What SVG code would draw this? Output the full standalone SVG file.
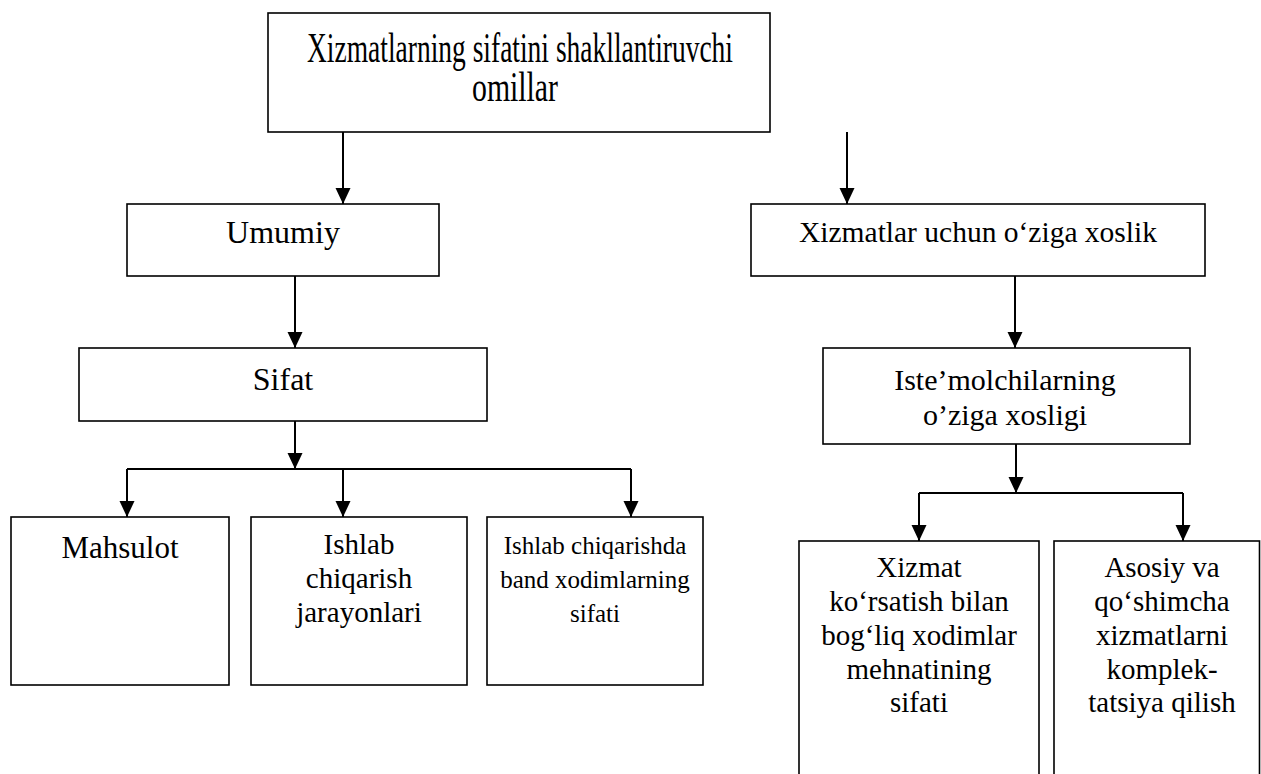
<svg xmlns="http://www.w3.org/2000/svg" width="1261" height="774" viewBox="0 0 1261 774">
<style>
.box{fill:#fff;stroke:#000;stroke-width:1.6}
.t{font-family:'Liberation Serif','Times New Roman',Tinos,'DejaVu Serif',serif;fill:#000;text-anchor:middle}
.c{fill:none;stroke:#000;stroke-width:2}
</style>
<defs>
<marker id="ah" markerUnits="userSpaceOnUse" markerWidth="16" markerHeight="16" refX="16" refY="7.5" orient="auto">
<path d="M0,0 L16,7.5 L0,15 z" fill="#000"/>
</marker>
</defs>
<rect width="1261" height="774" fill="#fff"/>
<g id="connectors">
<path class="c" d="M343,132 V204" marker-end="url(#ah)"/>
<path class="c" d="M847,132 V204" marker-end="url(#ah)"/>
<path class="c" d="M295,276 V348" marker-end="url(#ah)"/>
<path class="c" d="M1015,276 V348" marker-end="url(#ah)"/>
<path class="c" d="M295,421 V469" marker-end="url(#ah)"/>
<path class="c" d="M127,469 H631"/>
<path class="c" d="M127,469 V517" marker-end="url(#ah)"/>
<path class="c" d="M343,469 V517" marker-end="url(#ah)"/>
<path class="c" d="M631,469 V517" marker-end="url(#ah)"/>
<path class="c" d="M1016,444 V493" marker-end="url(#ah)"/>
<path class="c" d="M919,493 H1183"/>
<path class="c" d="M919,493 V541" marker-end="url(#ah)"/>
<path class="c" d="M1183,493 V541" marker-end="url(#ah)"/>
</g>
<g id="title">
<rect class="box" x="268" y="13" width="502" height="119"/>
<text class="t" x="520" y="62" font-size="42" textLength="426" lengthAdjust="spacingAndGlyphs">Xizmatlarning sifatini shakllantiruvchi</text>
<text class="t" x="515" y="101" font-size="42" textLength="86" lengthAdjust="spacingAndGlyphs">omillar</text>
</g>
<g id="umumiy">
<rect class="box" x="127" y="204" width="312" height="72"/>
<text class="t" x="283" y="243" font-size="32">Umumiy</text>
</g>
<g id="xizmatlar">
<rect class="box" x="751" y="204" width="454" height="72"/>
<text class="t" x="978" y="242" font-size="29.5">Xizmatlar uchun o‘ziga xoslik</text>
</g>
<g id="sifat">
<rect class="box" x="79" y="348" width="408" height="73"/>
<text class="t" x="283" y="390" font-size="32">Sifat</text>
</g>
<g id="istemol">
<rect class="box" x="823" y="348" width="367" height="96"/>
<text class="t" x="1005" y="390" font-size="30">Iste’molchilarning</text>
<text class="t" x="1005" y="425" font-size="30">o’ziga xosligi</text>
</g>
<g id="mahsulot">
<rect class="box" x="11" y="517" width="218" height="168"/>
<text class="t" x="120" y="558" font-size="31">Mahsulot</text>
</g>
<g id="jarayonlar">
<rect class="box" x="251" y="517" width="216" height="168"/>
<text class="t" x="359" y="554" font-size="29">Ishlab</text>
<text class="t" x="359" y="588" font-size="29">chiqarish</text>
<text class="t" x="359" y="622" font-size="29">jarayonlari</text>
</g>
<g id="xodimlar">
<rect class="box" x="487" y="517" width="216" height="168"/>
<text class="t" x="595" y="554" font-size="25">Ishlab chiqarishda</text>
<text class="t" x="595" y="588" font-size="25">band xodimlarning</text>
<text class="t" x="595" y="622" font-size="25">sifati</text>
</g>
<g id="mehnat">
<rect class="box" x="799" y="541" width="240" height="260"/>
<text class="t" x="919" y="577" font-size="29">Xizmat</text>
<text class="t" x="919" y="611" font-size="29">ko‘rsatish bilan</text>
<text class="t" x="919" y="645" font-size="29">bog‘liq xodimlar</text>
<text class="t" x="919" y="679" font-size="29">mehnatining</text>
<text class="t" x="919" y="712" font-size="29">sifati</text>
</g>
<g id="komplekt">
<rect class="box" x="1054" y="541" width="205.5" height="260"/>
<text class="t" x="1162" y="577" font-size="29">Asosiy va</text>
<text class="t" x="1162" y="611" font-size="29">qo‘shimcha</text>
<text class="t" x="1162" y="645" font-size="29">xizmatlarni</text>
<text class="t" x="1162" y="679" font-size="29">komplek-</text>
<text class="t" x="1162" y="712" font-size="29">tatsiya qilish</text>
</g>
</svg>
